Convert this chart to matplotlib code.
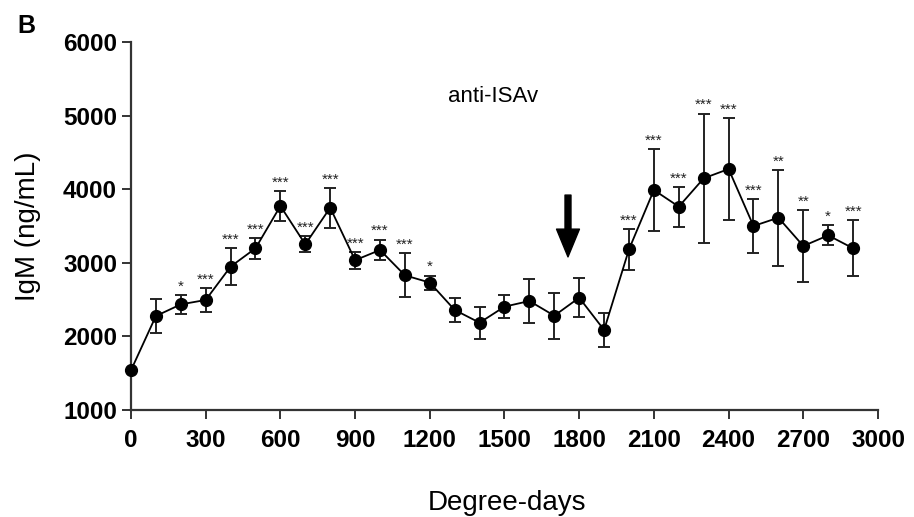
import matplotlib
matplotlib.use("Agg")
import matplotlib.pyplot as plt

plt.rcParams['font.family'] = ['Liberation Sans', 'DejaVu Sans']

degree_days = [0, 100, 200, 300, 400, 500, 600, 700, 800, 900,
               1000, 1100, 1200, 1300, 1400, 1500, 1600, 1700, 1800, 1900,
               2000, 2100, 2200, 2300, 2400, 2500, 2600, 2700, 2800, 2900]
igm_mean = [1540, 2277, 2435, 2495, 2948, 3197, 3772, 3251, 3749, 3035,
            3174, 2830, 2731, 2359, 2186, 2404, 2481, 2281, 2526, 2087,
            3183, 3989, 3763, 4148, 4274, 3500, 3613, 3228, 3373, 3197]
igm_sem = [0, 230, 130, 158, 247, 143, 200, 110, 270, 115,
           142, 300, 95, 163, 215, 155, 300, 310, 265, 235,
           275, 560, 270, 880, 695, 370, 650, 487, 136, 380]
significance = ['', '', '*', '***', '***', '***', '***', '***', '***', '***',
                '***', '***', '*', '', '', '', '', '', '', '',
                '***', '***', '***', '***', '***', '***', '**', '**', '*', '***']
x_ticks = [0, 300, 600, 900, 1200, 1500, 1800, 2100, 2400, 2700, 3000]
y_ticks = [1000, 2000, 3000, 4000, 5000, 6000]
arrow_x = 1755
arrow_from = 3920
arrow_to = 3080

fig = plt.figure(figsize=(9.14, 5.17), dpi=100)
ax = fig.add_axes([131/914, 1-410/517, (878-131)/914, (410-42)/517])

ax.errorbar(degree_days, igm_mean, yerr=igm_sem, fmt='-o', color='black',
            ecolor='#222222', elinewidth=1.4, capsize=4.5, capthick=1.4,
            markersize=8.5, linewidth=1.3, clip_on=False, zorder=3)

for x, m, e, s in zip(degree_days, igm_mean, igm_sem, significance):
    if s:
        ax.annotate(s, xy=(x, m + e), xytext=(0, 1), textcoords='offset points',
                    ha='center', va='bottom', fontsize=11, color='#222222')

ax.annotate('', xy=(arrow_x, arrow_to), xytext=(arrow_x, arrow_from),
            arrowprops=dict(width=4.3, headwidth=16.5, headlength=20,
                            facecolor='black', edgecolor='black', shrink=0))

ax.text(1454, 5253, 'anti-ISAv', ha='center', va='center', fontsize=16)

ax.set_xlim(0, 3000)
ax.set_ylim(1000, 6000)
ax.set_xticks(x_ticks)
ax.set_yticks(y_ticks)
for sp in ['top', 'right']:
    ax.spines[sp].set_visible(False)
for sp in ['left', 'bottom']:
    ax.spines[sp].set_linewidth(1.6)
    ax.spines[sp].set_color('#333333')
ax.tick_params(axis='both', direction='out', length=6.5, width=1.4, color='#333333')
ax.tick_params(axis='y', pad=3.5)
ax.tick_params(axis='x', pad=7)
for lbl in ax.get_xticklabels() + ax.get_yticklabels():
    lbl.set_fontweight('bold')
    lbl.set_fontsize(17.5)

ax.set_xlabel('Degree-days', fontsize=20, va='center')
ax.xaxis.set_label_coords((507-131)/747, (410-503)/368)
ax.set_ylabel('IgM (ng/mL)', fontsize=20, va='center')
ax.yaxis.set_label_coords((28-131)/747, 0.5)

fig.text(17/914, 1-33/517, 'B', fontsize=18, fontweight='bold', va='baseline')

fig.savefig('out.png', dpi=100)
